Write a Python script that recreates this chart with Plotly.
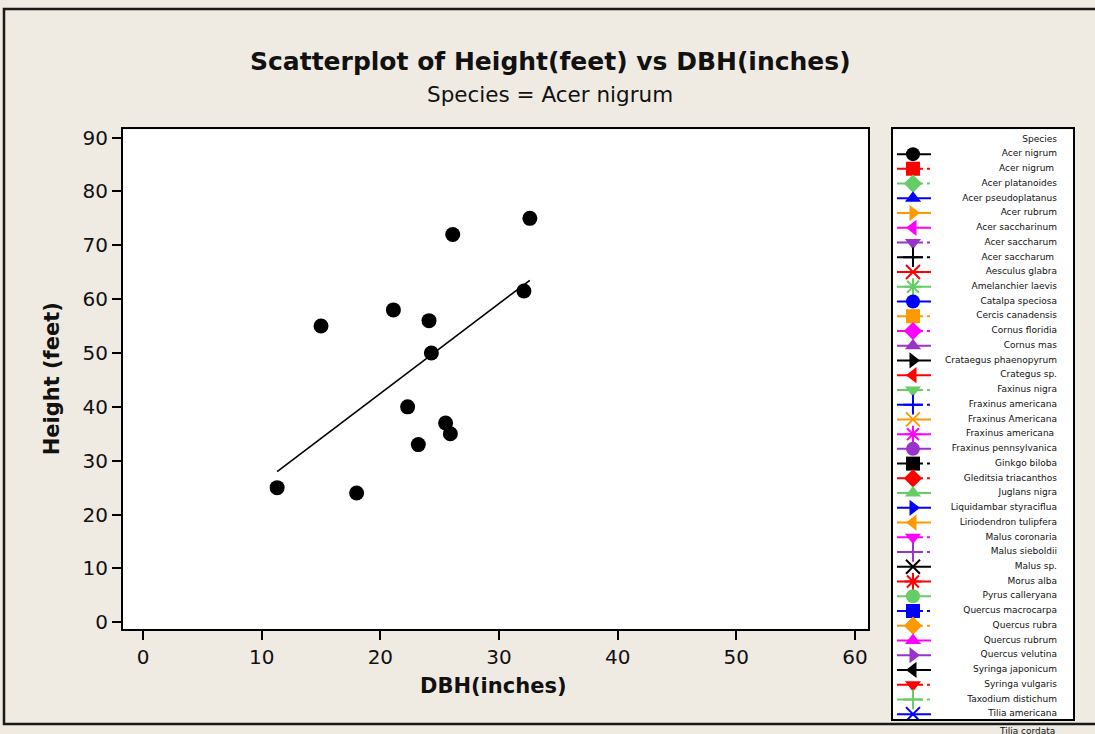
import numpy as np
import plotly.graph_objects as go

# ---------------- data ----------------
dbh = [11.3, 18.0, 15.0, 21.1, 24.1, 24.3, 22.3, 23.2, 25.5, 25.9, 26.1, 32.6, 32.1]
height = [25, 24, 55, 58, 56, 50, 40, 33, 37, 35, 72, 75, 61.5]

x_ticks = [0, 10, 20, 30, 40, 50, 60]
y_ticks = [0, 10, 20, 30, 40, 50, 60, 70, 80, 90]

species = [
    "Acer nigrum", "Acer nigrum ", "Acer platanoides", "Acer pseudoplatanus",
    "Acer rubrum", "Acer saccharinum", "Acer saccharum", "Acer saccharum ",
    "Aesculus glabra", "Amelanchier laevis", "Catalpa speciosa", "Cercis canadensis",
    "Cornus floridia", "Cornus mas", "Crataegus phaenopyrum", "Crategus sp.",
    "Faxinus nigra", "Fraxinus americana", "Fraxinus Americana", "Fraxinus americana ",
    "Fraxinus pennsylvanica", "Ginkgo biloba", "Gleditsia triacanthos", "Juglans nigra",
    "Liquidambar styraciflua", "Liriodendron tulipfera", "Malus coronaria", "Malus sieboldii",
    "Malus sp.", "Morus alba", "Pyrus calleryana", "Quercus macrocarpa",
    "Quercus rubra", "Quercus rubrum", "Quercus velutina", "Syringa japonicum",
    "Syringa vulgaris", "Taxodium distichum", "Tilia americana", "Tilia cordata",
]

palette = ["#000000", "#FF0000", "#66CC66", "#0000FF", "#FF9900", "#FF00FF", "#9933CC"]
symbols = ["circle", "square", "diamond", "triangle-up", "triangle-right",
           "triangle-left", "triangle-down", "cross-thin-open", "x-thin-open", "asterisk-open"]
dash_cycle = ["solid", "26px,4px,3px,100px", "26px,4px,3px,100px", "solid", "solid"]

# ---------------- layout geometry ----------------
W, H = 1095, 734
BG = "#EFEBE2"
FONT = "DejaVu Sans"

def px_x(p):
    return p / W

def px_y(p):
    return 1 - p / H

fig = go.Figure()

# scatter points
fig.add_trace(go.Scatter(
    x=dbh, y=height, mode="markers",
    marker=dict(symbol="circle", size=15, color="black", line=dict(width=0)),
    xaxis="x", yaxis="y", showlegend=False, hoverinfo="x+y",
))

# least-squares fit line
slope, intercept = np.polyfit(dbh, height, 1)
fx = np.array([min(dbh), max(dbh)])
fig.add_trace(go.Scatter(
    x=fx, y=slope * fx + intercept, mode="lines",
    line=dict(color="black", width=1.6),
    xaxis="x", yaxis="y", showlegend=False, hoverinfo="skip",
))

# ---------------- custom legend panel ----------------
LX0, LX1 = 0.022, 0.211
LMARK = 0.111
LTEXT = 0.911
ROW0_PX, ROW_STEP = 152.0, 14.92
LEG_X0_PX, LEG_X1_PX = 893, 1073

for i, name in enumerate(species):
    row = i + 1
    col = palette[i % len(palette)]
    sym = symbols[i % len(symbols)]
    dsh = dash_cycle[i % len(dash_cycle)]
    fig.add_trace(go.Scatter(
        x=[LX0, LX1], y=[row, row], mode="lines",
        line=dict(color=col, width=2, dash=dsh),
        xaxis="x2", yaxis="y2", showlegend=False, hoverinfo="skip", cliponaxis=True,
    ))
    if sym.endswith("-open"):
        mk = dict(symbol=sym, size=14, color=col, line=dict(color=col, width=2))
    else:
        mk = dict(symbol=sym, size=14, color=col, line=dict(width=0))
    fig.add_trace(go.Scatter(
        x=[LMARK], y=[row], mode="markers", marker=mk,
        xaxis="x2", yaxis="y2", showlegend=False, hoverinfo="skip", cliponaxis=True,
    ))

leg_top = (127 - ROW0_PX) / ROW_STEP + 1
leg_bot = (724 - ROW0_PX) / ROW_STEP + 1

# legend labels that fall inside the box
inside = [(r, t) for r, t in enumerate(["Species"] + species) if r <= leg_bot]
fig.add_trace(go.Scatter(
    x=[LTEXT] * len(inside), y=[r for r, _ in inside],
    mode="text", text=[t for _, t in inside], textposition="middle left",
    textfont=dict(family=FONT, size=9, color="#111"),
    xaxis="x2", yaxis="y2", showlegend=False, hoverinfo="skip", cliponaxis=False,
))

# labels that spill below the legend box (as in the original)
overflow_ann = []
for r, t in enumerate(["Species"] + species):
    if r > leg_bot:
        ypx = ROW0_PX + ROW_STEP * (r - 1) + 2.5
        xpx = LEG_X0_PX + LTEXT * (LEG_X1_PX - LEG_X0_PX)
        overflow_ann.append(dict(
            text=t, x=px_x(xpx), y=px_y(ypx), xref="paper", yref="paper",
            showarrow=False, xanchor="right", yanchor="middle",
            font=dict(family=FONT, size=9, color="#111")))

axis_common = dict(showgrid=False, zeroline=False, showline=True, mirror=True,
                   linecolor="black", linewidth=2)

fig.update_layout(
    width=W, height=H,
    margin=dict(l=0, r=0, t=0, b=0),
    paper_bgcolor=BG, plot_bgcolor="white",
    font=dict(family=FONT, color="black"),
    showlegend=False,
    xaxis=dict(domain=[px_x(123), px_x(868)], range=[-1.69, 61.1],
               tickmode="array", tickvals=x_ticks, ticks="outside", ticklen=9,
               tickwidth=1.5, tickcolor="black",
               tickfont=dict(family=FONT, size=20, color="#111"),
               anchor="y", **axis_common),
    yaxis=dict(domain=[px_y(633), px_y(127)], range=[-1.28, 91.5],
               tickmode="array", tickvals=y_ticks, ticks="outside", ticklen=9,
               tickwidth=1.5, tickcolor="black",
               tickfont=dict(family=FONT, size=20, color="#111"),
               anchor="x", **axis_common),
    xaxis2=dict(domain=[px_x(LEG_X0_PX), px_x(LEG_X1_PX)], range=[0, 1],
                showticklabels=False, ticks="", anchor="y2", fixedrange=True,
                **axis_common),
    yaxis2=dict(domain=[px_y(724), px_y(127)], range=[leg_bot, leg_top],
                showticklabels=False, ticks="", anchor="x2", fixedrange=True,
                **axis_common),
    shapes=[dict(type="rect", xref="paper", yref="paper",
                 x0=px_x(4), x1=1.05, y0=px_y(729), y1=px_y(5),
                 line=dict(color="#1a1a1a", width=2.5), fillcolor="rgba(0,0,0,0)",
                 layer="below")],
    annotations=[
        dict(text="<b>Scatterplot of Height(feet) vs DBH(inches)</b>",
             x=px_x(550), y=px_y(58), xref="paper", yref="paper",
             showarrow=False, xanchor="center", yanchor="middle",
             font=dict(family=FONT, size=25, color="#111")),
        dict(text="Species = Acer nigrum",
             x=px_x(550), y=px_y(92), xref="paper", yref="paper",
             showarrow=False, xanchor="center", yanchor="middle",
             font=dict(family=FONT, size=21.5, color="#111")),
        dict(text="<b>DBH(inches)</b>",
             x=px_x(493), y=px_y(690), xref="paper", yref="paper",
             showarrow=False, xanchor="center", yanchor="middle",
             font=dict(family=FONT, size=21, color="#111")),
        dict(text="<b>Height (feet)</b>",
             x=px_x(52), y=px_y(380), xref="paper", yref="paper",
             showarrow=False, xanchor="center", yanchor="middle", textangle=-90,
             font=dict(family=FONT, size=21, color="#111")),
    ] + overflow_ann,
)

fig.write_html(
    "out.html",
    config={"displayModeBar": False},
    post_script="document.body.style.margin='0';document.body.style.overflow='hidden';",
)
